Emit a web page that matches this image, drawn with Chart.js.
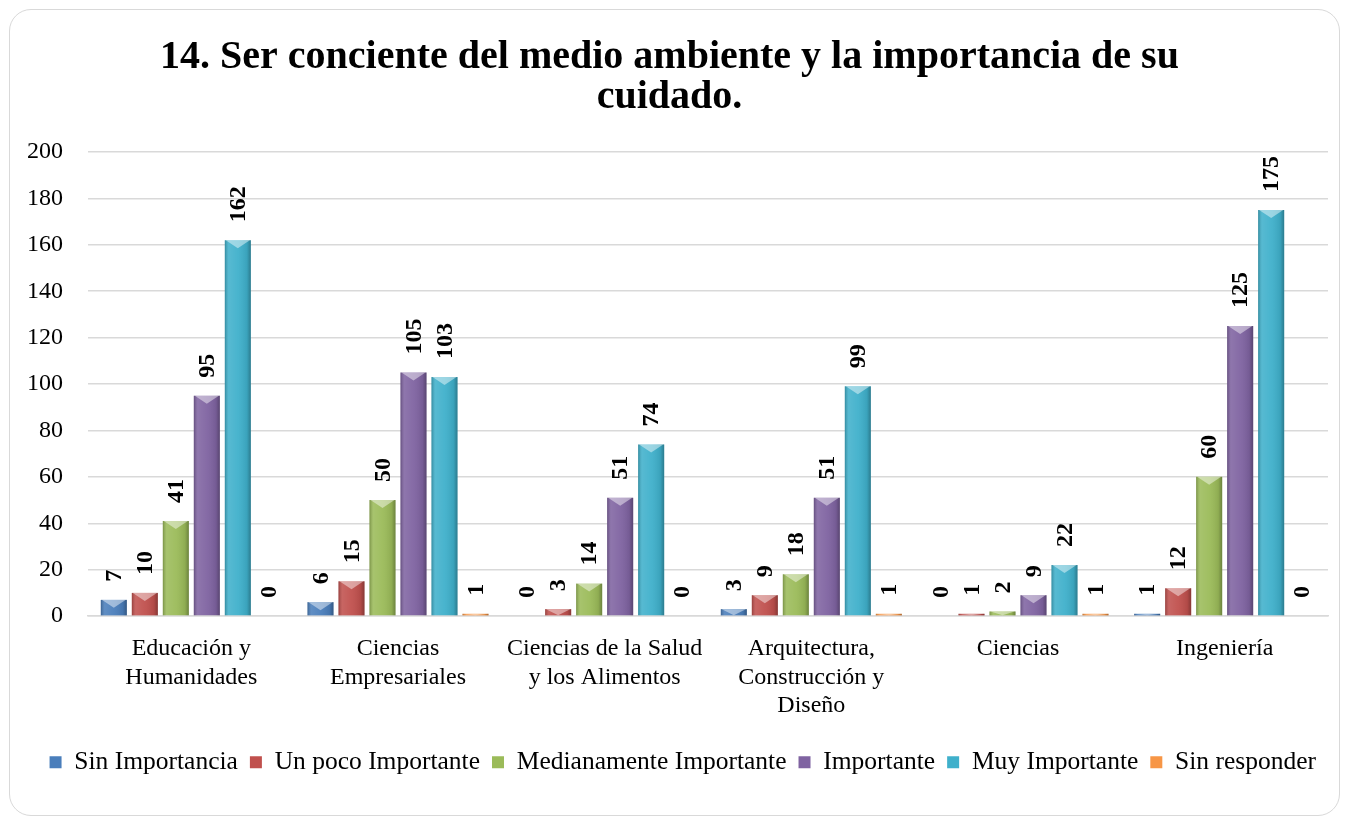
<!DOCTYPE html>
<html>
<head>
<meta charset="utf-8">
<script src="https://cdn.jsdelivr.net/npm/chart.js@4"></script>
<style>
  body { margin: 0; background: #fff; }
  #box {
    position: absolute; left: 9px; top: 9px; width: 1331px; height: 807px;
    border: 1.5px solid #d9d9d9; border-radius: 22px; box-sizing: border-box;
  }
  #chart { position: absolute; left: 1px; top: 1px; }
</style>
</head>
<body>
<div id="box"><canvas id="chart" width="1326" height="802"></canvas></div>
<script>
const categories = [
  ['Educación y', 'Humanidades'],
  ['Ciencias', 'Empresariales'],
  ['Ciencias de la Salud', 'y los Alimentos'],
  ['Arquitectura,', 'Construcción y', 'Diseño'],
  'Ciencias',
  'Ingeniería'
];
const sinImportancia = [7, 6, 0, 3, 0, 1];
const unPoco = [10, 15, 3, 9, 1, 12];
const medianamente = [41, 50, 14, 18, 2, 60];
const importante = [95, 105, 51, 51, 9, 125];
const muyImportante = [162, 103, 74, 99, 22, 175];
const sinResponder = [0, 1, 0, 1, 1, 0];

const seriesNames = ['Sin Importancia', 'Un poco Importante', 'Medianamente Importante', 'Importante', 'Muy Importante', 'Sin responder'];
const seriesColors = ['#4a7ebb', '#c0504d', '#9bbb59', '#7f63a1', '#3fb0cb', '#f79646'];
const serif = "'Liberation Serif', 'DejaVu Serif', serif";

// bevel look + rotated value labels drawn over each bar
const barLook = {
  id: 'barLook',
  afterDatasetsDraw(chart) {
    const ctx = chart.ctx;
    chart.data.datasets.forEach((ds, i) => {
      const meta = chart.getDatasetMeta(i);
      meta.data.forEach((bar, j) => {
        const p = bar.getProps(['x', 'y', 'base', 'width'], true);
        const left = p.x - p.width / 2;
        const h = p.base - p.y;
        ctx.save();
        if (h > 0.5) {
          const g = ctx.createLinearGradient(left, 0, left + p.width, 0);
          g.addColorStop(0, 'rgba(0,0,0,0.22)');
          g.addColorStop(0.15, 'rgba(255,255,255,0.12)');
          g.addColorStop(0.5, 'rgba(255,255,255,0.05)');
          g.addColorStop(0.85, 'rgba(0,0,0,0.08)');
          g.addColorStop(1, 'rgba(0,0,0,0.3)');
          ctx.fillStyle = g;
          ctx.fillRect(left, p.y, p.width, h);
          const d = Math.min(8, h);
          ctx.beginPath();
          ctx.moveTo(left + 1, p.y);
          ctx.lineTo(left + p.width - 1, p.y);
          ctx.lineTo(p.x, p.y + d);
          ctx.closePath();
          ctx.fillStyle = 'rgba(255,255,255,0.45)';
          ctx.fill();
        }
        ctx.translate(p.x, p.y - 18);
        ctx.rotate(-Math.PI / 2);
        ctx.font = 'bold 24px ' + serif;
        ctx.fillStyle = '#000';
        ctx.textAlign = 'left';
        ctx.textBaseline = 'middle';
        ctx.fillText(String(ds.data[j]), 0, 1);
        ctx.restore();
      });
    });
  }
};

const allValues = [sinImportancia, unPoco, medianamente, importante, muyImportante, sinResponder];

new Chart(document.getElementById('chart'), {
  type: 'bar',
  data: {
    labels: categories,
    datasets: allValues.map((vals, i) => ({
      label: seriesNames[i],
      data: vals,
      backgroundColor: seriesColors[i],
      borderWidth: 0,
      categoryPercentage: 0.9,
      barPercentage: 0.84
    }))
  },
  options: {
    responsive: false,
    animation: false,
    layout: { padding: { left: 0, right: 9, top: 0, bottom: 28 } },
    plugins: {
      title: {
        display: true,
        text: ['14. Ser conciente del medio ambiente y la importancia de su', 'cuidado.'],
        color: '#000',
        font: { family: serif, size: 40, weight: 'bold', lineHeight: 1.0 },
        padding: { top: 27, bottom: 34 }
      },
      legend: {
        position: 'bottom',
        align: 'end',
        labels: {
          color: '#000',
          font: { family: serif, size: 25.5 },
          boxWidth: 12,
          boxHeight: 12,
          padding: 12
        }
      },
      tooltip: { enabled: false }
    },
    scales: {
      x: {
        grid: { display: false },
        border: { color: '#d9d9d9', width: 1.5 },
        ticks: { color: '#000', font: { family: serif, size: 24 }, padding: 10, maxRotation: 0 },
        afterFit(scale) { scale.height += 7; }
      },
      y: {
        min: 0,
        max: 200,
        grid: { color: '#d9d9d9', lineWidth: 1.5, drawTicks: false },
        border: { display: false },
        ticks: { stepSize: 20, color: '#000', font: { family: serif, size: 24 }, padding: 25 },
        afterFit(scale) { scale.width = 77; }
      }
    }
  },
  plugins: [barLook]
});
</script>
</body>
</html>
